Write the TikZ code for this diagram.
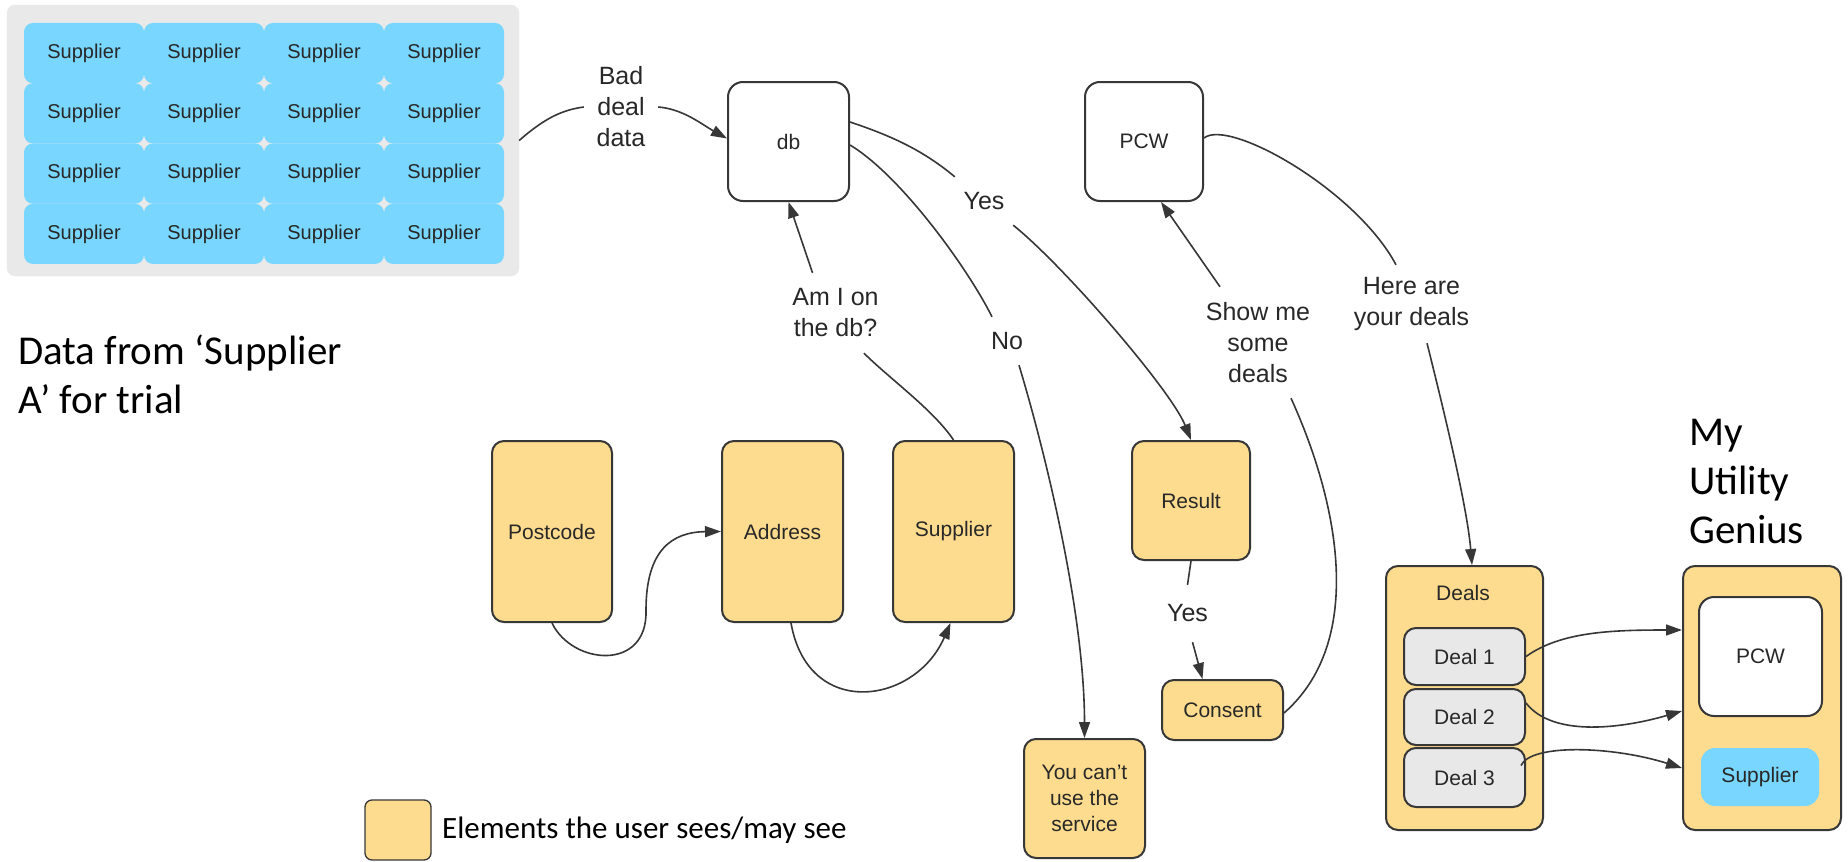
\documentclass[tikz,border=0pt]{standalone}
\usepackage{fontspec}
\setmainfont{Liberation Sans}
\newfontfamily\calibri{Carlito}
\usetikzlibrary{arrows.meta}
\definecolor{ybox}{RGB}{254,220,143}
\definecolor{bluecell}{RGB}{120,214,255}
\definecolor{greypanel}{RGB}{233,233,233}
\definecolor{dealgrey}{RGB}{232,232,232}
\definecolor{edge}{RGB}{55,55,55}
\definecolor{ink}{RGB}{40,40,40}
\begin{document}
\begin{tikzpicture}[x=1pt,y=-1pt,
 box/.style={rectangle, rounded corners=12pt, draw=edge, line width=2pt, text=ink, align=center, inner sep=0pt, font=\fontsize{21}{26}\selectfont},
 userbox/.style={box, fill=ybox},
 whitebox/.style={box, fill=white, rounded corners=15pt},
 greybox/.style={box, fill=dealgrey},
 cellbox/.style={rectangle, rounded corners=9pt, fill=bluecell, inner sep=0pt, text=ink, font=\fontsize{20}{24}\selectfont, minimum width=120pt, minimum height=60.25pt},
 lbl/.style={fill=white, inner sep=0pt, align=center, text=ink, font=\fontsize{25}{31}\selectfont},
 conn/.style={draw=edge, line width=1.6pt},
 arr/.style={conn, -{Triangle[length=16pt,width=11pt]}},
 bigtext/.style={font=\calibri\fontsize{41}{49}\selectfont, align=left, inner sep=0pt, text=black},
]
\fill[white] (0,0) rectangle (1848,862);
\useasboundingbox (0,0) rectangle (1848,862);

% supplier panel
\node[rectangle, fill=greypanel, draw=black!8, rounded corners=8pt, minimum width=512pt, minimum height=271pt, inner sep=0pt] (panel) at (263,140.5) {};
\foreach \i in {1,...,4}{
  \foreach \j in {1,...,4}{
    \node[cellbox] (c\j\i) at ({84+120*(\i-1)},{53.1+60.25*(\j-1)}) {Supplier};
  }
}

% boxes
\node[whitebox, minimum width=121pt, minimum height=119pt] (db) at (788.5,141.5) {db};
\node[whitebox, minimum width=118pt, minimum height=119pt] (pcw) at (1144,141.5) {PCW};
\node[userbox, minimum width=120pt, minimum height=181pt] (postcode) at (552,531.5) {Postcode};
\node[userbox, minimum width=121pt, minimum height=181pt] (address) at (782.5,531.5) {Address};
\node[userbox, minimum width=121pt, minimum height=181pt] (supp) at (953.5,531.5) {Supplier};
\node[userbox, minimum width=118pt, minimum height=119pt] (result) at (1191,500.5) {Result};
\node[userbox, minimum width=121pt, minimum height=60pt] (consent) at (1222.5,710) {Consent};
\node[userbox, minimum width=121pt, minimum height=119pt] (cant) at (1084.5,798.5) {You can't\\use the\\service};

\node[userbox, minimum width=157pt, minimum height=264pt] (deals) at (1464.5,698) {};
\node[font=\fontsize{21}{26}\selectfont, text=ink, inner sep=0pt] (dealstitle) at (1463,593) {Deals};
\node[greybox, minimum width=121pt, minimum height=57pt] (deal1) at (1464.5,656.5) {Deal 1};
\node[greybox, minimum width=121pt, minimum height=56pt] (deal2) at (1464.5,717) {Deal 2};
\node[greybox, minimum width=121pt, minimum height=59pt] (deal3) at (1464.5,777.5) {Deal 3};

\node[userbox, minimum width=158pt, minimum height=264pt] (mug) at (1762,698) {};
\node[whitebox, minimum width=123pt, minimum height=119pt] (mpcw) at (1760.5,656.5) {PCW};
\node[box, fill=bluecell, draw=none, rounded corners=14pt, minimum width=118pt, minimum height=58pt] (msupp) at (1760,777) {Supplier};

% labels
\node[lbl, minimum width=74pt, minimum height=100pt] (bad) at (621,107) {Bad\\deal\\data};
\node[lbl, minimum width=58pt, minimum height=48pt] (yes1) at (984,201) {Yes};
\node[lbl, minimum width=105pt, minimum height=80pt] (amdb) at (835.5,313) {Am I on\\the db?};
\node[lbl, minimum width=58pt, minimum height=48pt] (no) at (1007,341) {No};
\node[lbl, minimum width=132pt, minimum height=111pt] (show) at (1258,342.5) {Show me\\some\\deals};
\node[lbl, minimum width=141pt, minimum height=78pt] (here) at (1411.5,304) {Here are\\your deals};
\node[lbl, minimum width=65pt, minimum height=57pt] (yes2) at (1187.5,613.5) {Yes};

% free texts (base anchor = baseline of last line)
\node[bigtext, anchor=base west] (datafrom) at (18,413) {Data from ‘Supplier\\A’ for trial};
\node[bigtext, anchor=base west] (mugtitle) at (1689,543) {My\\Utility\\Genius};
\node[userbox, rounded corners=7pt, line width=1.3pt, minimum width=66pt, minimum height=60pt] (legbox) at (398,830) {};
\node[anchor=west, font=\calibri\fontsize{31}{37}\selectfont, inner sep=0pt, text=black] (legtext) at (442,830) {Elements the user sees/may see};

% connectors
\draw[conn] (panel.east) .. controls +(25,-22) and +(-22,3) .. (bad.west);
\draw[arr] (bad.east) .. controls +(25,2) and +(-25,-14) .. ([yshift=3]db.west);
\draw[conn] ([yshift=19.5]db.east) .. controls +(45,15) and +(-30,-25) .. (yes1.north west);
\draw[arr] (yes1.south east) .. controls +(50,40) and +(-20,-50) .. (result.north);
\draw[conn] ([yshift=-3.5]db.east) .. controls +(50,30) and +(-25,-50) .. ([xshift=-15]no.north);
\draw[arr] ([xshift=12]no.south) .. controls +(30,100) and +(0,-120) .. (cant.north);
\draw[conn] (supp.north) .. controls +(-20,-30) and +(25,25) .. ([xshift=28.5]amdb.south);
\draw[arr] ([xshift=-23]amdb.north) -- (db.south);
\draw[conn] (result.south) -- (yes2.north);
\draw[arr] ([xshift=5]yes2.south) -- ([xshift=-20]consent.north);
\draw[conn] ([yshift=-3]consent.east) .. controls +(80,-70) and +(50,110) .. ([xshift=33]show.south);
\draw[arr] ([xshift=-38]show.north) -- ([xshift=17]pcw.south);
\draw[conn] ([yshift=3.5]pcw.east) .. controls +(25,-20) and +(-40,-75) .. ([xshift=-15.5]here.north);
\draw[arr] ([xshift=15.5]here.south) .. controls +(15,60) and +(-5,-60) .. ([xshift=7.5]deals.north);
\draw[arr] (postcode.south) .. controls (572,665) and (648,672) .. (646,610) .. controls (646,550) and (672,532) .. (address.west);
\draw[arr] ([xshift=8.5]address.south) .. controls (808,720) and (915,705) .. ([xshift=-3]supp.south);
\draw[arr] (deal1.east) .. controls +(35,-25) and +(-70,0) .. ([yshift=68]mug.west);
\draw[arr] ([yshift=14]deal2.east) .. controls +(27,35) and +(-58,17) .. ([yshift=-13]mug.west);
\draw[arr] ([xshift=-5,yshift=12]deal3.east) .. controls +(10,-22) and +(-70,-22) .. ([yshift=-70]mug.west);
\end{tikzpicture}
\end{document}
